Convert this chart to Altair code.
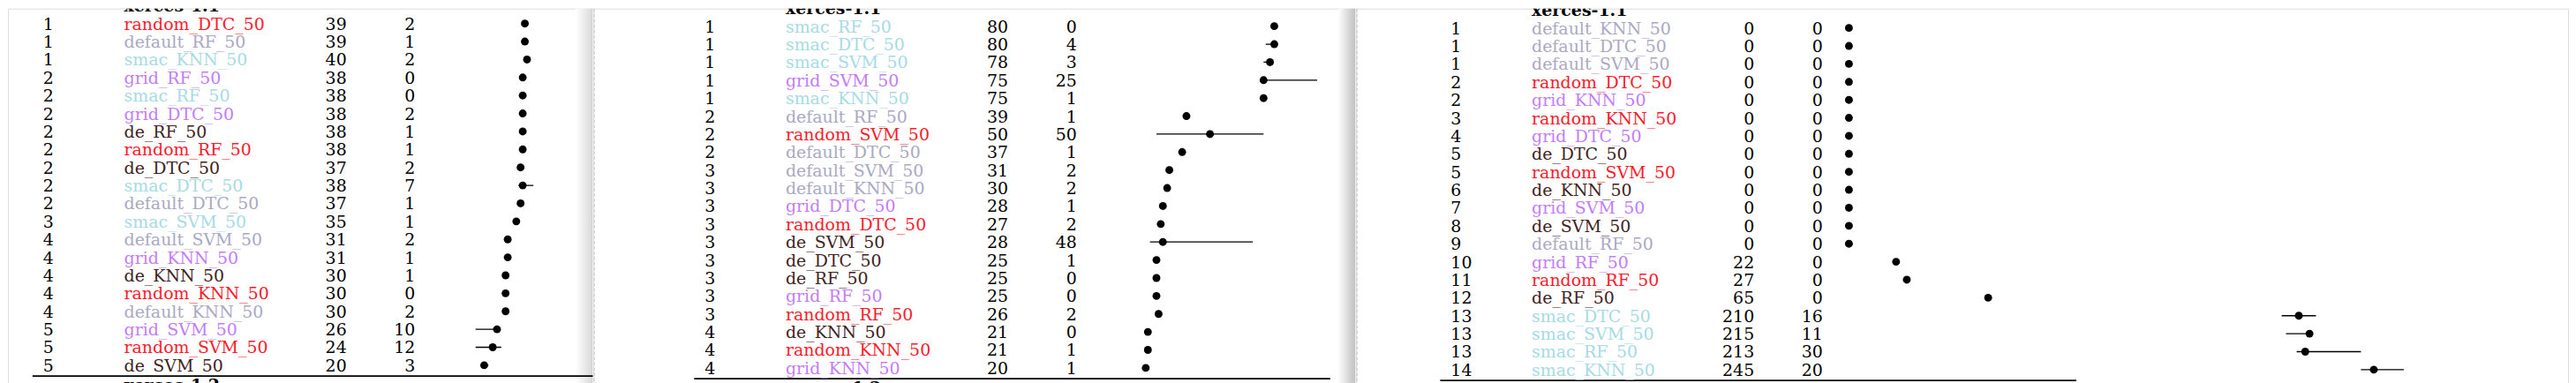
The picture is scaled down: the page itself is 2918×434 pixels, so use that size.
import altair as alt
import pandas as pd

# ---------------- data ----------------
title_top = "xerces-1.1"
title_next = "xerces-1.2"

# panel 1
p1_rank = [1, 1, 1, 2, 2, 2, 2, 2, 2, 2, 2, 3, 4, 4, 4, 4, 4, 5, 5, 5]
p1_name = ["random_DTC_50", "default_RF_50", "smac_KNN_50", "grid_RF_50", "smac_RF_50",
           "grid_DTC_50", "de_RF_50", "random_RF_50", "de_DTC_50", "smac_DTC_50",
           "default_DTC_50", "smac_SVM_50", "default_SVM_50", "grid_KNN_50", "de_KNN_50",
           "random_KNN_50", "default_KNN_50", "grid_SVM_50", "random_SVM_50", "de_SVM_50"]
p1_med = [39, 39, 40, 38, 38, 38, 38, 38, 37, 38, 37, 35, 31, 31, 30, 30, 30, 26, 24, 20]
p1_iqr = [2, 1, 2, 0, 0, 2, 1, 1, 2, 7, 1, 1, 2, 1, 1, 0, 2, 10, 12, 3]
p1_lo = [38, 39, 39, 38, 38, 37, 38, 38, 36, 36, 37, 35, 30, 31, 30, 30, 29, 16, 16, 19]
p1_hi = [40, 40, 41, 38, 38, 39, 39, 39, 38, 43, 38, 36, 32, 32, 31, 30, 31, 26, 28, 22]

# panel 2
p2_rank = [1, 1, 1, 1, 1, 2, 2, 2, 3, 3, 3, 3, 3, 3, 3, 3, 3, 4, 4, 4]
p2_name = ["smac_RF_50", "smac_DTC_50", "smac_SVM_50", "grid_SVM_50", "smac_KNN_50",
           "default_RF_50", "random_SVM_50", "default_DTC_50", "default_SVM_50", "default_KNN_50",
           "grid_DTC_50", "random_DTC_50", "de_SVM_50", "de_DTC_50", "de_RF_50",
           "grid_RF_50", "random_RF_50", "de_KNN_50", "random_KNN_50", "grid_KNN_50"]
p2_med = [80, 80, 78, 75, 75, 39, 50, 37, 31, 30, 28, 27, 28, 25, 25, 25, 26, 21, 21, 20]
p2_iqr = [0, 4, 3, 25, 1, 1, 50, 1, 2, 2, 1, 2, 48, 1, 0, 0, 2, 0, 1, 1]
p2_lo = [80, 76, 75, 75, 75, 39, 25, 37, 30, 29, 28, 26, 22, 25, 25, 25, 25, 21, 21, 20]
p2_hi = [80, 80, 78, 100, 76, 40, 75, 38, 32, 31, 29, 28, 70, 26, 25, 25, 27, 21, 22, 21]

# panel 3
p3_rank = [1, 1, 1, 2, 2, 3, 4, 5, 5, 6, 7, 8, 9, 10, 11, 12, 13, 13, 13, 14]
p3_name = ["default_KNN_50", "default_DTC_50", "default_SVM_50", "random_DTC_50", "grid_KNN_50",
           "random_KNN_50", "grid_DTC_50", "de_DTC_50", "random_SVM_50", "de_KNN_50",
           "grid_SVM_50", "de_SVM_50", "default_RF_50", "grid_RF_50", "random_RF_50",
           "de_RF_50", "smac_DTC_50", "smac_SVM_50", "smac_RF_50", "smac_KNN_50"]
p3_med = [0, 0, 0, 0, 0, 0, 0, 0, 0, 0, 0, 0, 0, 22, 27, 65, 210, 215, 213, 245]
p3_iqr = [0, 0, 0, 0, 0, 0, 0, 0, 0, 0, 0, 0, 0, 0, 0, 0, 16, 11, 30, 20]
p3_lo = [0, 0, 0, 0, 0, 0, 0, 0, 0, 0, 0, 0, 0, 22, 27, 65, 202, 204, 209, 239]
p3_hi = [0, 0, 0, 0, 0, 0, 0, 0, 0, 0, 0, 0, 0, 22, 27, 65, 218, 215, 239, 259]

tools = ["random", "default", "smac", "grid", "de"]
tool_colors = ["#ff1a2a", "#aaa8c4", "#a6dbe4", "#c47cff", "#3f2222"]

# ---------------- layout / style ----------------
FONT = "DejaVu Serif"
FS = 19
ROW = 20.45
UNIT = 2.435
X0 = 464.6
H = 426


def shade(x1, x2, c_end, line_color, height=H):
    one = pd.DataFrame({"k": [0]})
    grad = alt.Chart(one).mark_rect(
        fill=alt.LinearGradient(
            gradient="linear",
            stops=[alt.GradientStop(offset=0, color="#ffffff"),
                   alt.GradientStop(offset=1, color=c_end)],
            x1=0, x2=1, y1=0, y2=0),
        strokeWidth=0,
    ).encode(x=alt.value(x1), x2=alt.value(x2), y=alt.value(0), y2=alt.value(height))
    edge = alt.Chart(one).mark_rule(color=line_color, strokeWidth=1).encode(
        x=alt.value(x2 + 0.5), y=alt.value(0), y2=alt.value(height))
    return [grad, edge]


def dashed_left(height=H):
    one = pd.DataFrame({"k": [0]})
    return alt.Chart(one).mark_rule(color="#c8c8c8", strokeWidth=1, strokeDash=[4, 2]).encode(
        x=alt.value(1.5), y=alt.value(0), y2=alt.value(height))


def panel(ranks, names, meds, iqrs, lo, hi, width, T, c0, right_shade=None, left_dash=False):
    df = pd.DataFrame({
        "i": list(range(len(names))),
        "rank": [str(r) for r in ranks],
        "name": names,
        "med": meds,
        "medtxt": [str(m) for m in meds],
        "iqrtxt": [str(q) for q in iqrs],
        "lo": lo,
        "hi": hi,
        "tool": [n.split("_")[0] for n in names],
    })
    titles = pd.DataFrame({"i": [-1.0, 20.1], "t": [title_top, title_next]})
    rules = pd.DataFrame({"i": [-1.37, 19.6]})

    yscale = alt.Scale(domain=[0, 19], range=[c0, c0 + 19 * ROW], nice=False, zero=False)
    xscale = alt.Scale(domain=[0, 100], range=[T + X0, T + X0 + 100 * UNIT], nice=False, zero=False)
    Y = alt.Y("i:Q", scale=yscale, axis=None)
    col = alt.Color("tool:N", scale=alt.Scale(domain=tools, range=tool_colors), legend=None)

    layers = []
    if right_shade is not None:
        layers += shade(*right_shade)
    if left_dash:
        layers.append(dashed_left())

    layers.append(alt.Chart(rules).mark_rule(color="black", strokeWidth=1.6, clip=True).encode(
        x=alt.value(T), x2=alt.value(T + 723), y=Y))

    base = alt.Chart(df)
    layers.append(base.mark_rule(color="black", strokeWidth=1.3, clip=True).encode(
        x=alt.X("lo:Q", scale=xscale, axis=None), x2="hi:Q", y=Y))
    layers.append(base.mark_circle(color="black", size=80, opacity=1, clip=True).encode(
        x=alt.X("med:Q", scale=xscale, axis=None), y=Y))

    txt = dict(baseline="alphabetic", dy=7, font=FONT, fontSize=FS, clip=True)
    layers.append(alt.Chart(titles).mark_text(align="left", fontWeight="bold", color="black", **txt).encode(
        x=alt.value(T + 104), y=Y, text="t:N"))
    layers.append(base.mark_text(align="left", color="black", **txt).encode(
        x=alt.value(T + 12), y=Y, text="rank:N"))
    layers.append(base.mark_text(align="left", **txt).encode(
        x=alt.value(T + 104), y=Y, text="name:N", color=col))
    layers.append(base.mark_text(align="right", color="black", **txt).encode(
        x=alt.value(T + 357), y=Y, text="medtxt:N"))
    layers.append(base.mark_text(align="right", color="black", **txt).encode(
        x=alt.value(T + 435), y=Y, text="iqrtxt:N"))

    return alt.layer(*layers).properties(width=width, height=H)


c1 = panel(p1_rank, p1_name, p1_med, p1_iqr, p1_lo, p1_hi, 665, 28, 17,
           right_shade=(645, 663, "#dcdcdc", "#c4c4c4"))
c2 = panel(p2_rank, p2_name, p2_med, p2_iqr, p2_lo, p2_hi, 867, 115, 20,
           right_shade=(847, 865, "#c4c4c4", "#a8a8a8"), left_dash=True)
c3 = panel(p3_rank, p3_name, p3_med, p3_iqr, p3_lo, p3_hi, 1378, 96, 22, left_dash=True)

chart = alt.hconcat(c1, c2, c3, spacing=0, bounds="flush", padding=0).configure_view(
    strokeWidth=0).configure(background="white")

chart.save("out.html", embed_options={"renderer": "svg", "actions": False})
